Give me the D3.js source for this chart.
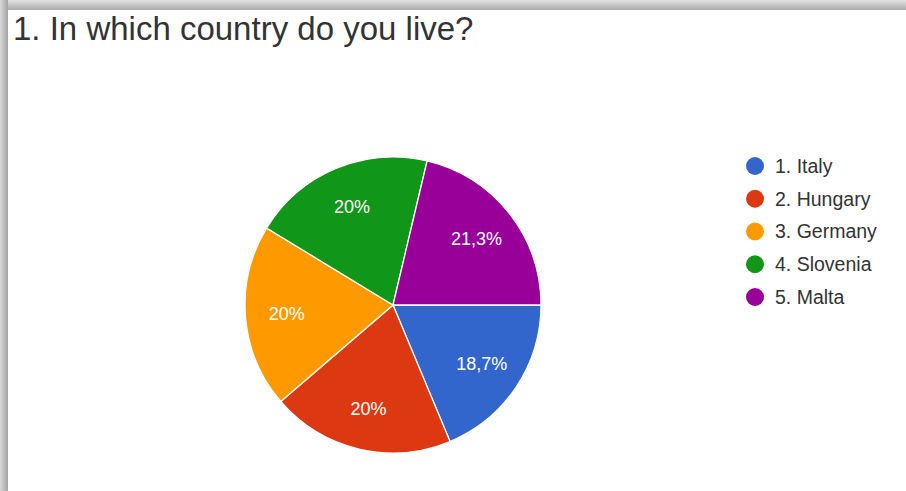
<!DOCTYPE html>
<html>
<head>
<meta charset="utf-8">
<script src="https://cdn.jsdelivr.net/npm/d3@7"></script>
<style>
  html, body { margin: 0; padding: 0; background: #fff; }
  svg { display: block; }
</style>
</head>
<body>
<svg id="chart" width="906" height="491"></svg>
<script>
// Survey answers: share of respondents per country (percent)
const categories = ["1. Italy", "2. Hungary", "3. Germany", "4. Slovenia", "5. Malta"];
const shares = [18.7, 20, 20, 20, 21.3];
const shareLabels = ["18,7%", "20%", "20%", "20%", "21,3%"];
const palette = ["#3366cc", "#dc3912", "#ff9900", "#109618", "#990099"];
const titleText = "1. In which country do you live?";

const svg = d3.select("#chart");
const W = 906, H = 491;
const font = "'Liberation Sans', Arial, sans-serif";

// card shadow frame
const defs = svg.append("defs");
const gTop = defs.append("linearGradient").attr("id", "shTop").attr("x1", 0).attr("y1", 0).attr("x2", 0).attr("y2", 1);
gTop.append("stop").attr("offset", "0%").attr("stop-color", "#e4e4e4");
gTop.append("stop").attr("offset", "100%").attr("stop-color", "#a9a9a9");
const gLeft = defs.append("linearGradient").attr("id", "shLeft").attr("x1", 0).attr("y1", 0).attr("x2", 1).attr("y2", 0);
gLeft.append("stop").attr("offset", "0%").attr("stop-color", "#d8d8d8");
gLeft.append("stop").attr("offset", "100%").attr("stop-color", "#a4a4a4");

svg.append("rect").attr("x", 0).attr("y", 0).attr("width", W).attr("height", 10).attr("fill", "url(#shTop)");
svg.append("rect").attr("x", 0).attr("y", 0).attr("width", 8).attr("height", H).attr("fill", "url(#shLeft)");
svg.append("rect").attr("x", 8).attr("y", 10).attr("width", W - 8).attr("height", H - 10).attr("fill", "#fff");

// title
svg.append("text")
  .attr("x", 13).attr("y", 40)
  .attr("font-family", font)
  .attr("font-size", 33)
  .attr("fill", "#333")
  .text(titleText);

// pie
const cx = 393, cy = 305, r = 148;
const pie = d3.pie().sort(null).value(d => d.v)
  .startAngle(Math.PI / 2).endAngle(Math.PI / 2 + 2 * Math.PI);
const data = categories.map((c, i) => ({ name: c, v: shares[i], label: shareLabels[i], color: palette[i] }));
const arcs = pie(data);
const arc = d3.arc().innerRadius(0).outerRadius(r);
const labelArc = d3.arc().innerRadius(r * 0.72).outerRadius(r * 0.72);

const g = svg.append("g").attr("transform", `translate(${cx},${cy})`);
g.selectAll("path").data(arcs).join("path")
  .attr("d", arc)
  .attr("fill", d => d.data.color)
  .attr("stroke", "#fff")
  .attr("stroke-width", 1.3);

g.selectAll("text").data(arcs).join("text")
  .attr("transform", d => `translate(${labelArc.centroid(d)})`)
  .attr("text-anchor", "middle")
  .attr("dy", "0.35em")
  .attr("font-family", font)
  .attr("font-size", 18)
  .attr("fill", "#fff")
  .text(d => d.data.label);

// legend
const legendY = d3.scalePoint().domain(categories).range([166, 297]);
const lg = svg.append("g");
const rows = lg.selectAll("g").data(data).join("g")
  .attr("transform", d => `translate(755,${legendY(d.name)})`);
rows.append("circle").attr("r", 9).attr("fill", d => d.color);
rows.append("text")
  .attr("x", 20).attr("dy", "0.35em")
  .attr("font-family", font)
  .attr("font-size", 19.5)
  .attr("fill", "#333")
  .text(d => d.name);
</script>
</body>
</html>
